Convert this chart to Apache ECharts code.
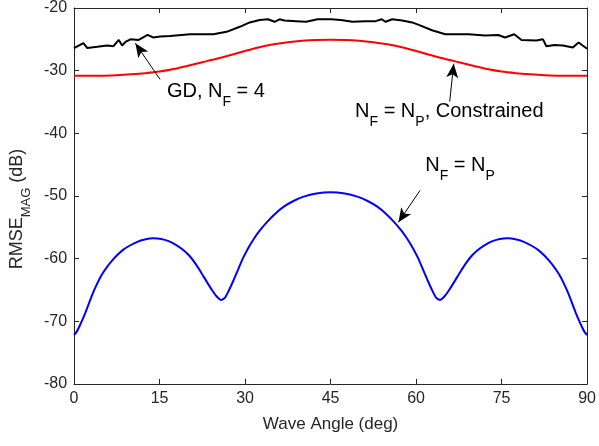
<!DOCTYPE html>
<html>
<head>
<meta charset="utf-8">
<script src="https://cdn.jsdelivr.net/npm/echarts@6/dist/echarts.min.js"></script>
<style>
html,body{margin:0;padding:0;background:#fff;}
#c{width:599px;height:446px;}
</style>
</head>
<body>
<div id="c"></div>
<script>
// ---- data ----
const xTicks = [0, 15, 30, 45, 60, 75, 90];
const yTicks = [-80, -70, -60, -50, -40, -30, -20];

const blackX = [0,1.64,2.34,4.08,5.83,6.92,7.85,8.44,9.02,9.89,11.34,12.91,13.85,15.12,16.87,20.35,24.42,26.76,29.08,30.82,32.56,34.01,35.18,36.05,36.92,38.97,40.71,42.73,45.07,46.81,48.84,51.17,52.92,53.97,54.66,55.81,57.56,59.3,60.47,62.79,65.13,69.19,72.1,74.42,75.6,77.22,78.49,81.1,82.27,82.85,84.31,85.76,87.5,88.5,90];
const blackY = [-26.4,-25.6,-26.4,-26.2,-25.97,-26.1,-25.1,-26.0,-25.4,-25.0,-25.1,-24.3,-24.7,-24.55,-24.45,-24.2,-24.2,-23.8,-23.0,-22.3,-21.9,-21.8,-22.2,-21.8,-22.0,-22.1,-22.2,-21.8,-21.8,-21.9,-22.2,-22.1,-22.1,-21.8,-22.2,-21.8,-22.0,-22.3,-22.7,-23.55,-24.2,-24.2,-24.4,-24.3,-24.7,-24.2,-25.1,-25.2,-25.0,-26.1,-25.9,-26.0,-26.3,-25.5,-26.5];

const redX = [0,5,7.5,10,12.5,15,17.5,20,22.5,25,27.5,30,32.5,35,37.5,40,42.5,45,47.5,50,52.5,55,57.5,60,62.5,65,67.5,70,72.5,75,77.5,80,82.5,85,90];
const redY = [-30.8,-30.8,-30.72,-30.58,-30.4,-30.15,-29.75,-29.2,-28.65,-28.1,-27.5,-26.85,-26.25,-25.8,-25.45,-25.22,-25.1,-25.07,-25.1,-25.22,-25.45,-25.8,-26.25,-26.85,-27.5,-28.1,-28.65,-29.2,-29.75,-30.15,-30.4,-30.58,-30.72,-30.8,-30.8];

const blueX = [0,0.5,1.0,1.5,2.0,2.5,3.0,3.5,4.0,4.6,5.2,5.8,6.6,7.5,8.6,9.8,11.0,12.4,13.9,15.3,16.6,17.8,19.0,20.2,21.3,22.3,23.3,24.2,25.0,25.8,26.5,27.2,28.0,28.8,29.6,30.5,31.5,32.6,33.8,35.2,36.8,38.5,40.3,42.5,45,
  47.5,49.7,51.5,53.2,54.8,56.2,57.4,58.5,59.5,60.4,61.2,62.0,62.8,63.5,64.2,65.0,65.8,66.7,67.7,68.7,69.8,71.0,72.2,73.4,74.7,76.1,77.6,79.0,80.2,81.4,82.5,83.4,84.2,84.8,85.4,86.0,86.5,87.0,87.5,88.0,88.5,89.0,89.5,90];
const blueY = [-72.2,-71.6,-70.7,-69.7,-68.6,-67.4,-66.2,-65.1,-64.1,-63.0,-62.1,-61.3,-60.4,-59.5,-58.6,-57.9,-57.35,-56.95,-56.75,-56.85,-57.2,-57.75,-58.5,-59.5,-60.8,-62.2,-63.7,-65.0,-66.0,-66.6,-66.2,-65.0,-63.4,-61.7,-60.0,-58.4,-56.9,-55.5,-54.2,-52.9,-51.7,-50.8,-50.1,-49.6,-49.4,
  -49.6,-50.1,-50.8,-51.7,-52.9,-54.2,-55.5,-56.9,-58.4,-60.0,-61.7,-63.4,-65.0,-66.2,-66.6,-66.0,-65.0,-63.7,-62.2,-60.8,-59.5,-58.5,-57.75,-57.2,-56.85,-56.75,-56.95,-57.35,-57.9,-58.6,-59.5,-60.4,-61.3,-62.1,-63.0,-64.1,-65.1,-66.2,-67.4,-68.6,-69.7,-70.7,-71.6,-72.2];

// annotations: [textLeftX, textCenterY, arrowFromX, arrowFromY, arrowTipX, arrowTipY]
const annGD = [16.3, -33.94, 15.1, -31.4, 10.76, -25.64];
const annCon = [49.3, -37.1, 65.9, -34.94, 66.6, -28.9];
const annNP = [61.6, -45.76, 60.7, -49.1, 56.9, -54.2];

const FONT = "'Liberation Sans', Arial, Helvetica, sans-serif";
const AX = '#262626';

function zip(a, b) { return a.map((v, i) => [v, b[i]]); }

const chart = echarts.init(document.getElementById('c'), null, {renderer: 'canvas'});

function axisCommon(showLabel) {
  return {
    axisLine: {show: true, onZero: false, lineStyle: {color: AX, width: 1}},
    axisTick: {show: true, inside: true, length: 5, lineStyle: {color: AX, width: 1}},
    axisLabel: {show: showLabel, color: AX, fontFamily: FONT, fontSize: 16},
    splitLine: {show: false}
  };
}

const arrowLine = (a) => [
  {coord: [a[2], a[3]], symbol: 'none'},
  {coord: [a[4], a[5]], symbol: 'arrow', symbolSize: [9, 14]}
];

chart.setOption({
  animation: false,
  backgroundColor: '#fff',
  grid: {left: 73, right: 10, top: 4, bottom: 62},
  xAxis: [
    Object.assign({type: 'value', min: xTicks[0], max: xTicks[xTicks.length - 1], interval: 15,
      name: 'Wave Angle (deg)', nameLocation: 'middle', nameGap: 32,
      nameTextStyle: {color: AX, fontFamily: FONT, fontSize: 17}}, axisCommon(true),
      {axisLabel: {show: true, color: AX, fontFamily: FONT, fontSize: 16, margin: 7}}),
    Object.assign({type: 'value', position: 'top', min: 0, max: 90, interval: 15}, axisCommon(false))
  ],
  yAxis: [
    Object.assign({type: 'value', min: yTicks[0], max: yTicks[yTicks.length - 1], interval: 10,
      name: '{n|RMSE}{s|MAG}{n| (dB)}', nameLocation: 'middle', nameGap: 35, nameRotate: 90,
      nameTextStyle: {color: AX, fontFamily: FONT, fontSize: 18, padding: [0, 26, 0, 0],
        rich: {
          n: {fontFamily: FONT, fontSize: 18, lineHeight: 18, color: AX, verticalAlign: 'bottom', padding: [0, 0, 7, 0]},
          s: {fontFamily: FONT, fontSize: 13, lineHeight: 13, color: AX, verticalAlign: 'bottom'}
        }}}, axisCommon(true),
      {axisLabel: {show: true, color: AX, fontFamily: FONT, fontSize: 16, margin: 7}}),
    Object.assign({type: 'value', position: 'right', min: -80, max: -20, interval: 10}, axisCommon(false))
  ],
  series: [
    {type: 'line', name: 'GD', data: zip(blackX, blackY), showSymbol: false, symbol: 'none',
      lineStyle: {color: '#000', width: 2}, silent: true},
    {type: 'line', name: 'Constrained', data: zip(redX, redY), showSymbol: false, symbol: 'none', smooth: 0.3,
      lineStyle: {color: '#ff0000', width: 2}, silent: true},
    {type: 'line', name: 'NF=NP', data: zip(blueX, blueY), showSymbol: false, symbol: 'none', smooth: 0.2,
      lineStyle: {color: '#0000ff', width: 2}, silent: true,
      markLine: {silent: true, animation: false, label: {show: false},
        lineStyle: {color: '#000', width: 1, type: 'solid'},
        data: [arrowLine(annGD), arrowLine(annCon), arrowLine(annNP)]}}
  ]
});

function annText(a, parts) {
  const p = chart.convertToPixel({xAxisIndex: 0, yAxisIndex: 0}, [a[0], a[1]]);
  return {
    type: 'text', x: p[0], y: p[1] + 3.5, silent: true,
    style: {
      text: parts, align: 'left', verticalAlign: 'middle',
      rich: {
        n: {fontFamily: FONT, fontSize: 20, lineHeight: 20, fill: '#000', verticalAlign: 'bottom', padding: [0, 0, 7, 0]},
        s: {fontFamily: FONT, fontSize: 14, lineHeight: 14, fill: '#000', verticalAlign: 'bottom'}
      }
    }
  };
}

chart.setOption({
  graphic: [
    annText(annGD, '{n|GD, N}{s|F}{n| = 4}'),
    annText(annCon, '{n|N}{s|F}{n| = N}{s|P}{n|, Constrained}'),
    annText(annNP, '{n|N}{s|F}{n| = N}{s|P}')
  ]
});
</script>
</body>
</html>
